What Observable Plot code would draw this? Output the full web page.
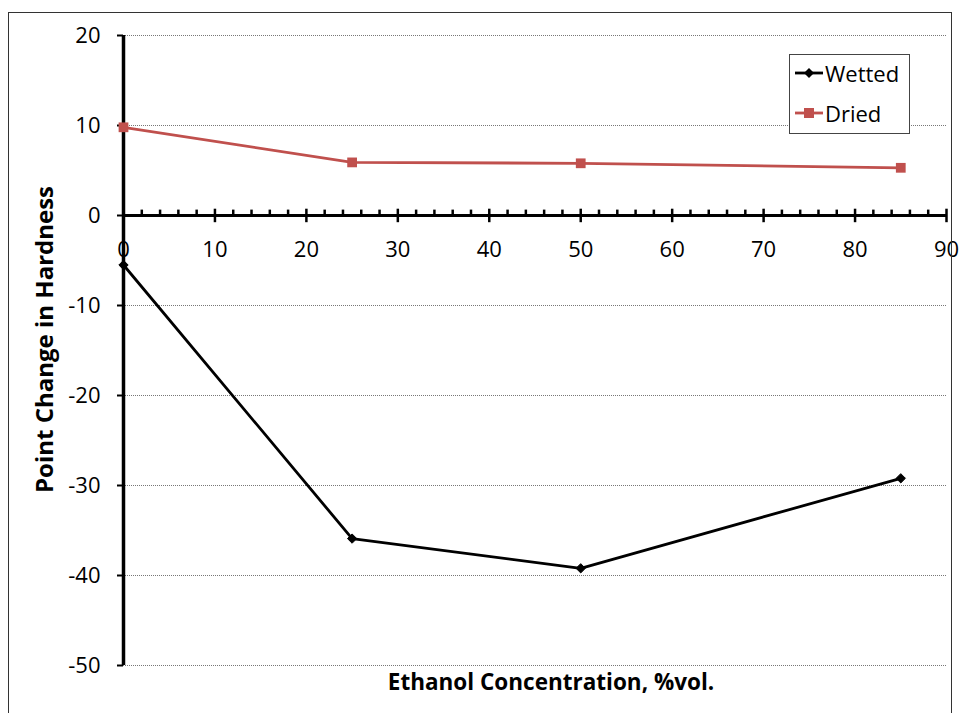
<!DOCTYPE html>
<html><head><meta charset="utf-8">
<script src="https://cdn.jsdelivr.net/npm/d3@7"></script>
<script src="https://cdn.jsdelivr.net/npm/@observablehq/plot@0.6"></script>
<style>
body{margin:0;background:#fff;font-family:"Open Sans",sans-serif;}
#wrap{position:relative;width:969px;height:713px;overflow:hidden;}
#border{position:absolute;left:8px;top:12px;width:944px;height:760px;border:1.5px solid #333;box-sizing:border-box;pointer-events:none;}
#legend{position:absolute;left:789px;top:54px;width:121px;height:80px;border:1.5px solid #444;box-sizing:border-box;background:#fff;font-family:"Open Sans",sans-serif;font-size:22px;}
.row{position:absolute;left:5px;display:flex;align-items:center;}
.row span{margin-left:2px;}
</style>
</head><body>
<div id="wrap"><div id="chart"></div><div id="border"></div><div id="legend"></div></div>
<script>
const concentration = [0, 25, 50, 85];
const wetted = [-5.5, -35.9, -39.2, -29.2];
const dried = [9.8, 5.9, 5.8, 5.3];
const yTicks = [20, 10, 0, -10, -20, -30, -40, -50];
const xMajor = [0, 10, 20, 30, 40, 50, 60, 70, 80, 90];
const xMinor = d3.range(0, 91, 2).filter(v => v % 10 !== 0);
const seriesNames = ["Wetted", "Dried"];
const colors = {Wetted: "#000000", Dried: "#C0504D"};
const symbols = {Wetted: "diamond2", Dried: "square"};

const wData = concentration.map((c, i) => ({x: c, y: wetted[i], s: "Wetted"}));
const dData = concentration.map((c, i) => ({x: c, y: dried[i], s: "Dried"}));

const chart = Plot.plot({
  width: 969, height: 713,
  marginLeft: 123, marginRight: 23, marginTop: 35, marginBottom: 48,
  style: {fontFamily: "'Open Sans', sans-serif", fontSize: "22px", color: "#000", background: "transparent"},
  x: {domain: [0, 90]},
  y: {domain: [-50, 20]},
  marks: [
    Plot.ruleY(yTicks.filter(v => v !== 0), {stroke: "#777", strokeWidth: 1, strokeDasharray: "1,1"}),
    Plot.axisY({ticks: yTicks, tickSize: 6, tickPadding: 17, strokeWidth: 2, fontSize: 22, label: null, tickFormat: d => String(d)}),
    Plot.axisX({ticks: [], label: null, tickSize: 0}),
    Plot.ruleX(xMinor, {y1: 0, y2: 0.6, stroke: "#000", strokeWidth: 2.5}),
    Plot.ruleX(xMajor, {y1: 0.7, y2: -0.8, stroke: "#000", strokeWidth: 2.5}),
    Plot.ruleY([0], {stroke: "#000", strokeWidth: 3}),
    Plot.ruleX([0], {stroke: "#000", strokeWidth: 3.5}),
    Plot.text(xMajor, {x: d => d, y: 0, dy: 34, text: d => String(d), fontSize: 22, fill: "#000"}),
    Plot.line(wData, {x: "x", y: "y", stroke: colors.Wetted, strokeWidth: 2.8}),
    Plot.line(dData, {x: "x", y: "y", stroke: colors.Dried, strokeWidth: 2.8}),
    Plot.dot(wData, {x: "x", y: "y", symbol: symbols.Wetted, fill: colors.Wetted, stroke: colors.Wetted, strokeWidth: 1, r: 4.2}),
    Plot.dot(dData, {x: "x", y: "y", symbol: symbols.Dried, fill: colors.Dried, r: 5.5}),
    Plot.text(["Point Change in Hardness"], {frameAnchor: "left", textAnchor: "middle", dx: -78, dy: -11, rotate: -90, fontWeight: "bold", fontSize: 24, fill: "#000"}),
    Plot.text(["Ethanol Concentration, %vol."], {frameAnchor: "bottom", dy: 24, dx: 16, fontWeight: "bold", fontSize: 22.5, fill: "#000"})
  ]
});
document.getElementById("chart").appendChild(chart);

const legend = document.getElementById("legend");
seriesNames.forEach((name, i) => {
  const row = document.createElement("div");
  row.className = "row";
  row.style.top = (3 + i * 40) + "px";
  const sym = name === "Wetted"
    ? '<path d="M14,5 L19,10 L14,15 L9,10 Z" fill="' + colors[name] + '"/>'
    : '<rect x="9" y="5" width="10" height="10" fill="' + colors[name] + '"/>';
  row.innerHTML = '<svg width="28" height="20"><line x1="0" y1="10" x2="28" y2="10" stroke="' + colors[name] + '" stroke-width="2.8"/>' + sym + '</svg><span>' + name + '</span>';
  legend.appendChild(row);
});
</script>
</body></html>
